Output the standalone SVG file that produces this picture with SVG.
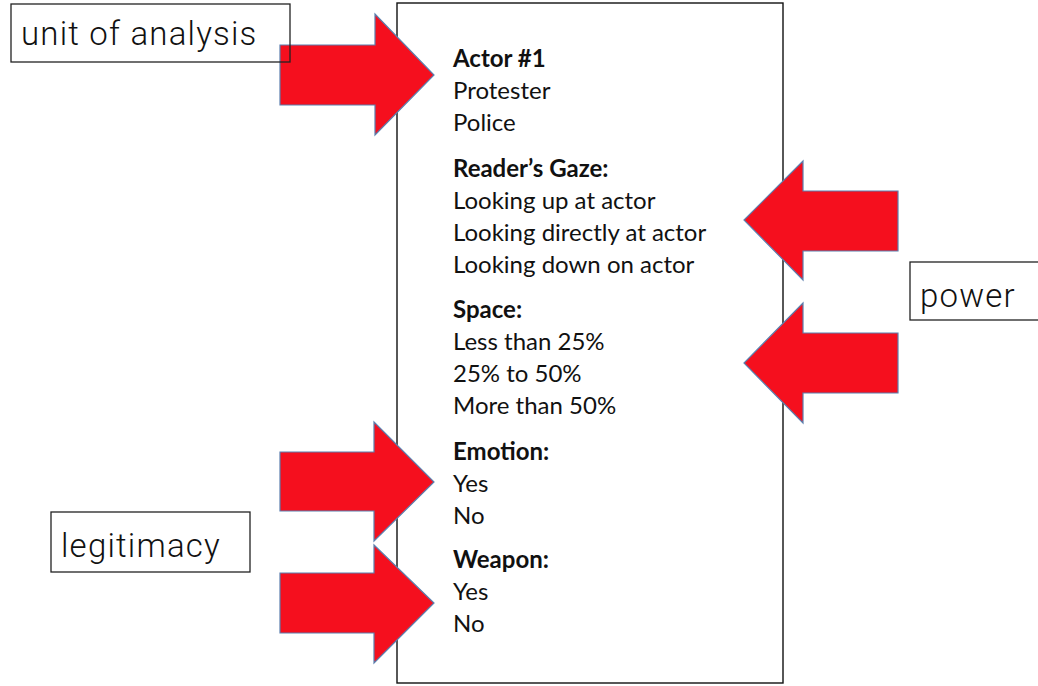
<svg xmlns="http://www.w3.org/2000/svg" width="1038" height="686" viewBox="0 0 1038 686">
  <style>
    .sheet { fill: #ffffff; stroke: #111111; stroke-width: 1.4; }
    .arrow { fill: #f50f1e; stroke: #5b7fae; stroke-width: 1.2; stroke-linejoin: miter; }
    .tag { fill: none; stroke: #222222; stroke-width: 1.3; }
    .tagtext { font-family: Roboto, "Liberation Sans", sans-serif; font-weight: 300; font-size: 33px; letter-spacing: 1.2px; fill: #111111; }
    .item { font-family: Lato, "Open Sans", sans-serif; font-size: 24px; fill: #111111; }
    .head { font-weight: 700; }
  </style>
  <rect width="1038" height="686" fill="#ffffff"/>

  <!-- coding sheet -->
  <g id="sheet">
    <rect class="sheet" x="397" y="3" width="386" height="680"/>
    <text class="item head" x="453" y="67">Actor #1</text>
    <text class="item" x="453" y="99">Protester</text>
    <text class="item" x="453" y="131">Police</text>
    <text class="item head" x="453" y="177">Reader’s Gaze:</text>
    <text class="item" x="453" y="209">Looking up at actor</text>
    <text class="item" x="453" y="241">Looking directly at actor</text>
    <text class="item" x="453" y="273">Looking down on actor</text>
    <text class="item head" x="453" y="318">Space:</text>
    <text class="item" x="453" y="350">Less than 25%</text>
    <text class="item" x="453" y="382">25% to 50%</text>
    <text class="item" x="453" y="414">More than 50%</text>
    <text class="item head" x="453" y="460">Emotion:</text>
    <text class="item" x="453" y="492">Yes</text>
    <text class="item" x="453" y="524">No</text>
    <text class="item head" x="453" y="568">Weapon:</text>
    <text class="item" x="453" y="600">Yes</text>
    <text class="item" x="453" y="632">No</text>
  </g>

  <!-- block arrows -->
  <g id="connectors">
    <polygon class="arrow" points="280,45 375,45 375,14 434,75 375,135 375,105 280,105"/>
    <polygon class="arrow" points="898,191 803,191 803,161 744,220 803,280 803,251 898,251"/>
    <polygon class="arrow" points="898,333 803,333 803,303 744,363 803,423 803,393 898,393"/>
    <polygon class="arrow" points="280,452 374,452 374,422 434,482 374,541 374,511 280,511"/>
    <polygon class="arrow" points="280,573 374,573 374,545 434,603 374,663 374,633 280,633"/>
  </g>

  <g id="label-unit">
    <rect class="tag" x="11" y="4" width="279" height="58"/>
    <text class="tagtext" x="21" y="45">unit of analysis</text>
  </g>
  <g id="label-power">
    <rect class="tag" x="910" y="262" width="140" height="58"/>
    <text class="tagtext" x="920" y="307">power</text>
  </g>
  <g id="label-legitimacy">
    <rect class="tag" x="51" y="512" width="199" height="60"/>
    <text class="tagtext" x="61" y="557">legitimacy</text>
  </g>
</svg>
